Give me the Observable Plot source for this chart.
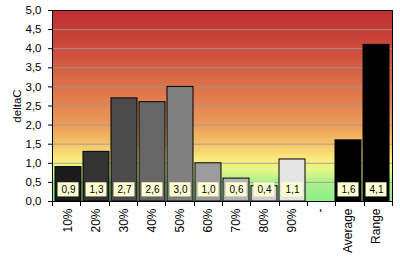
<!DOCTYPE html>
<html><head><meta charset="utf-8">
<script src="https://cdn.jsdelivr.net/npm/d3@7"></script>
<script src="https://cdn.jsdelivr.net/npm/@observablehq/plot@0.6"></script>
<style>body{margin:0;background:#fff;font-family:"Liberation Sans",Arial,sans-serif}</style>
</head><body><div id="chart"></div>
<script>
const categories = ["10%","20%","30%","40%","50%","60%","70%","80%","90%","-","Average","Range"];
const values = [0.9,1.3,2.7,2.6,3.0,1.0,0.6,0.4,1.1,null,1.6,4.1];
const yTicks = [0,0.5,1,1.5,2,2.5,3,3.5,4,4.5,5];

const data = categories.map((c,i)=>({cat:c, v:values[i]}));
const bars = data.filter(d=>d.v!=null);
const fmt = v => d3.format(".1f")(v).replace(".", ",");

const W=400,H=260,ML=52,MR=8,MT=10,MB=59;

const boundaryTicks = (index, scales, values, dims) => {
  const g = d3.create("svg:g").attr("stroke","black").attr("stroke-width",1);
  const step = (dims.width - dims.marginLeft - dims.marginRight)/categories.length;
  const y0 = dims.height - dims.marginBottom;
  for (let i=0;i<=categories.length;i++){
    const xx = Math.round(dims.marginLeft + i*step)+0.5;
    g.append("line").attr("x1",xx).attr("x2",xx).attr("y1",y0).attr("y2",y0+5);
  }
  return g.node();
};

const chart = Plot.plot({
  width: W, height: H,
  marginLeft: ML, marginRight: MR, marginTop: MT, marginBottom: MB,
  style: {fontFamily: '"Liberation Sans", Arial, sans-serif', fontSize: "11px", color:"#000", background:"#fff"},
  x: {type:"band", domain: categories, padding: 0.07, align: 0.5},
  y: {domain:[0,5]},
  color: {type:"ordinal", domain: categories,
          range:["#1c1c1c","#333333","#4b4b4b","#666666","#808080","#9c9c9c","#b4b4b4","#cecece","#e4e4e4","#000","#000000","#000000"]},
  marks: [
    Plot.frame({fill:"url(#bgGrad)", stroke:"none"}),
    Plot.ruleY(yTicks.filter(t=>t>0&&t<5), {stroke:"#a09a98", strokeOpacity:0.85}),
    Plot.barY(bars, {x:"cat", y:"v", fill:"cat", stroke:"#000", strokeWidth:1}),
    Plot.barY(bars, {x:"cat", y1:()=>0.12, y2:()=>0.49, fill:"#ffffd4", insetLeft:2.5, insetRight:2.5}),
    Plot.text(bars, {x:"cat", y:()=>0.3, text:d=>fmt(d.v), fill:"#000", fontSize:10}),
    Plot.frame({stroke:"#000"}),
    Plot.axisY({ticks: yTicks, tickFormat: fmt, tickSize:4, tickPadding:7, label:"deltaC", labelAnchor:"center", labelArrow:"none", labelOffset:40, fontSize:11.5}),
    Plot.axisX({tickSize:0, tickRotate:-90, tickPadding:7, label:null, fontSize:12}),
    boundaryTicks
  ]
});

const svg = d3.select(chart);
const defs = svg.insert("defs", ":first-child");
const lg = defs.append("linearGradient").attr("id","bgGrad").attr("x1",0).attr("y1",0).attr("x2",0).attr("y2",1);
[[0,"#c02f2f"],[0.15,"#c84339"],[0.33,"#d76545"],[0.47,"#e27f4f"],[0.6,"#eb9c5a"],[0.7,"#f4c468"],[0.77,"#fbe87c"],[0.83,"#eaf688"],[0.89,"#b2f08c"],[1,"#88ee88"]]
  .forEach(([o,c])=>lg.append("stop").attr("offset",o).attr("stop-color",c));
document.getElementById("chart").appendChild(chart);
</script></body></html>
